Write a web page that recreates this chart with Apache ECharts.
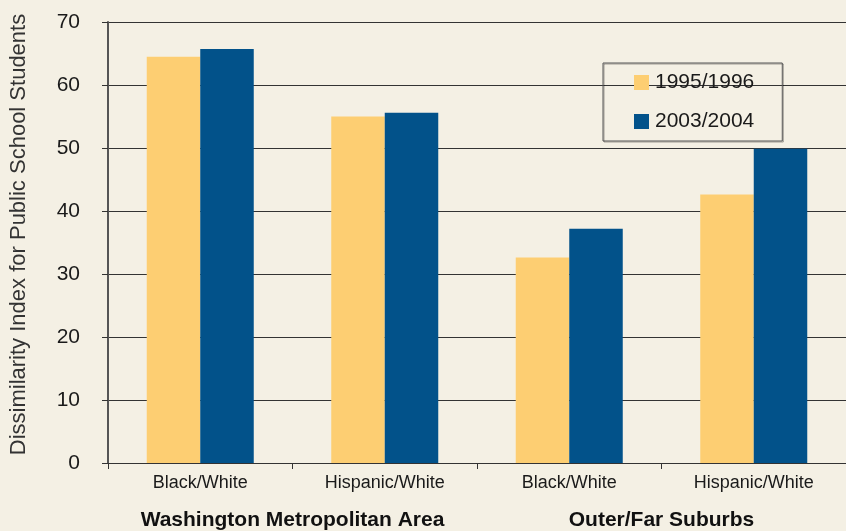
<!DOCTYPE html>
<html>
<head>
<meta charset="utf-8">
<script src="https://cdn.jsdelivr.net/npm/echarts@6/dist/echarts.min.js"></script>
<style>
  html, body { margin: 0; padding: 0; background: #f4f0e4; }
  #chart { width: 846px; height: 531px; }
</style>
</head>
<body>
<div id="chart"></div>
<script>
// Residential school segregation: dissimilarity index by pair and period
const categories = ['Black/White', 'Hispanic/White', 'Black/White', 'Hispanic/White'];
const regions = ['Washington Metropolitan Area', 'Outer/Far Suburbs'];
const seriesNames = ['1995/1996', '2003/2004'];
const values1995 = [64.5, 55.0, 32.6, 42.6];
const values2003 = [65.7, 55.6, 37.2, 49.9];
const yTicks = { min: 0, max: 70, interval: 10 };

const FONT = '"Liberation Sans", Arial, sans-serif';
const chart = echarts.init(document.getElementById('chart'), null, { renderer: 'canvas' });

chart.setOption({
  backgroundColor: '#f4f0e4',
  animation: false,
  textStyle: { fontFamily: FONT },
  grid: { left: 106, right: -4, top: 22, bottom: 67, containLabel: false },
  legend: {
    orient: 'vertical',
    left: 603,
    top: 63,
    padding: [9, 28, 9, 31],
    itemWidth: 15,
    itemHeight: 15,
    itemGap: 18,
    borderColor: '#555',
    borderWidth: 1,
    shadowColor: 'rgba(0,0,0,0.35)',
    shadowOffsetX: 1,
    shadowOffsetY: 1,
    textStyle: { fontSize: 21, color: '#1a1a1a', fontFamily: FONT, padding: [0, 0, 0, 1] },
    icon: 'rect',
    data: seriesNames
  },
  xAxis: [
    {
      type: 'category',
      data: categories,
      axisLine: { lineStyle: { color: '#333', width: 1 } },
      axisTick: { show: true, length: 6, lineStyle: { color: '#333' } },
      axisLabel: { interval: 0, fontSize: 18, color: '#1a1a1a', margin: 11 }
    },
    {
      type: 'category',
      data: regions,
      position: 'bottom',
      axisLine: { show: false },
      axisTick: { show: false },
      axisLabel: { interval: 0, hideOverlap: false, fontSize: 21, fontWeight: 'bold', color: '#111', margin: 47 }
    }
  ],
  yAxis: {
    type: 'value',
    min: yTicks.min,
    max: yTicks.max,
    interval: yTicks.interval,
    name: 'Dissimilarity Index for Public School Students',
    nameLocation: 'middle',
    nameGap: 78,
    nameTextStyle: { fontSize: 22, color: '#333', fontFamily: FONT, padding: [0, 0, 0, 16] },
    axisLine: { show: true, lineStyle: { color: '#555', width: 2 } },
    axisTick: { show: true, length: 6, lineStyle: { color: '#333' } },
    axisLabel: { fontSize: 21, color: '#1a1a1a', margin: 28 },
    splitLine: { show: true, lineStyle: { color: '#333', width: 1 } }
  },
  series: [
    {
      name: seriesNames[0],
      type: 'bar',
      xAxisIndex: 0,
      data: values1995,
      barWidth: '29%',
      barGap: '0%',
      itemStyle: { color: '#fdce72' }
    },
    {
      name: seriesNames[1],
      type: 'bar',
      xAxisIndex: 0,
      data: values2003,
      barWidth: '29%',
      barGap: '0%',
      itemStyle: { color: '#02528a' }
    }
  ]
});
</script>
</body>
</html>
